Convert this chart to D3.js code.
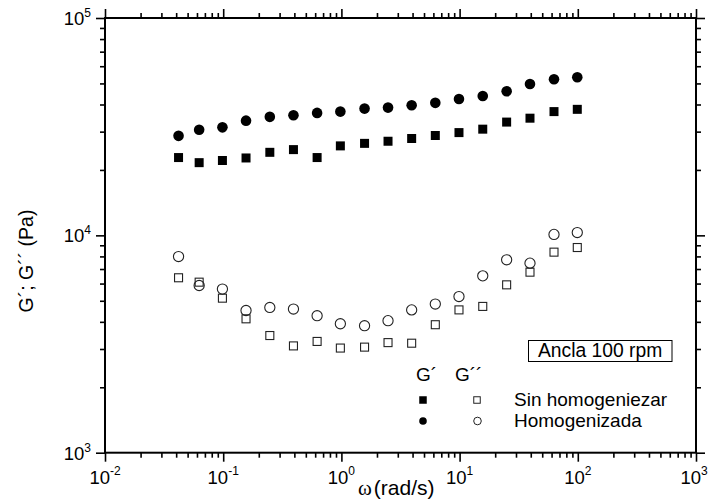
<!DOCTYPE html>
<html>
<head>
<meta charset="utf-8">
<script src="https://cdn.jsdelivr.net/npm/d3@7"></script>
<style>
  html, body { margin: 0; padding: 0; background: #fff; }
  svg { display: block; font-family: "Liberation Sans", Arial, sans-serif; }
</style>
</head>
<body>
<svg id="chart" width="709" height="500"></svg>
<script>
// Angular frequency (rad/s)
const omega = [0.0419, 0.0626, 0.0985, 0.156, 0.248, 0.393, 0.623, 0.980, 1.57,
               2.48, 3.93, 6.23, 9.88, 15.7, 25.0, 39.4, 62.9, 99.0];

// Storage modulus G' (Pa)
const gPrimeSin = [22800, 21600, 22100, 22700, 24100, 24800, 22800, 25800, 26500,
                   27100, 27900, 28800, 29700, 30800, 33200, 34600, 37100, 38000];
const gPrimeHom = [28700, 30600, 31400, 33700, 35100, 35700, 36600, 37100, 38300,
                   38700, 39700, 40700, 42400, 43800, 46000, 49700, 52300, 53400];

// Loss modulus G'' (Pa)
const gDoubleSin = [6380, 6090, 5140, 4130, 3460, 3100, 3250, 3030, 3060,
                    3210, 3190, 3880, 4540, 4710, 5920, 6770, 8370, 8790];
const gDoubleHom = [7990, 5880, 5660, 4510, 4660, 4580, 4270, 3920, 3840,
                    4050, 4540, 4830, 5230, 6510, 7720, 7450, 10100, 10300];

const xMajor = [1e-2, 1e-1, 1e0, 1e1, 1e2, 1e3];
const xExp = ["-2", "-1", "0", "1", "2", "3"];
const yMajor = [1e3, 1e4, 1e5];
const yExp = ["3", "4", "5"];

const legendRows = ["Sin homogeniezar", "Homogenizada"];
const annotation = "Ancla 100 rpm";

const W = 709;
const svg = d3.select("#chart");
const padL = 105, padR = 696, padT = 18, padB = 452.7;

const x = d3.scaleLog().domain([1e-2, 1e3]).range([padL, padR]);
const y = d3.scaleLog().domain([1e3, 1e5]).range([padB, padT]);

// minor ticks 2..9 in every decade
function minors(lo, hi) {
  const out = [];
  for (let e = lo; e < hi; e++) for (let m = 2; m <= 9; m++) out.push(m * Math.pow(10, e));
  return out;
}
const xMinor = minors(-2, 3);
const yMinor = minors(3, 5);

function styleAxis(g) {
  g.select(".domain").remove();
  g.selectAll(".tick line").attr("stroke", "#000").attr("stroke-width", 1.6);
  g.selectAll(".tick text").remove();
}

// ticks on all four sides
const axes = [
  [() => d3.axisBottom(x), `translate(0,${padB})`, xMajor, xMinor],
  [() => d3.axisTop(x), `translate(0,${padT})`, xMajor, xMinor],
  [() => d3.axisLeft(y), `translate(${padL},0)`, yMajor, yMinor],
  [() => d3.axisRight(y), `translate(${padR},0)`, yMajor, yMinor]
];
axes.forEach(([mk, tr, maj, min]) => {
  svg.append("g").attr("transform", tr)
    .call(mk().tickValues(maj).tickSize(9).tickSizeOuter(0)).call(styleAxis);
  svg.append("g").attr("transform", tr)
    .call(mk().tickValues(min).tickSize(5).tickSizeOuter(0)).call(styleAxis);
});

// frame
svg.append("rect")
  .attr("x", padL).attr("y", padT)
  .attr("width", padR - padL).attr("height", padB - padT)
  .attr("fill", "none").attr("stroke", "#000").attr("stroke-width", 2);

// x tick labels (powers of ten), centred on the tick and kept inside the page
xMajor.forEach((v, i) => {
  const t = svg.append("text")
    .attr("x", x(v)).attr("y", 484)
    .attr("text-anchor", "middle")
    .attr("font-size", 18.5).attr("fill", "#000");
  t.append("tspan").text("10");
  t.append("tspan").attr("dy", -9).attr("font-size", 12).text(xExp[i]);
  const bb = t.node().getBBox();
  if (bb.x + bb.width > W - 1) t.attr("x", x(v) - (bb.x + bb.width - (W - 1)));
});

// y tick labels
yMajor.forEach((v, i) => {
  const t = svg.append("text")
    .attr("x", 91).attr("y", y(v) + 7)
    .attr("text-anchor", "end")
    .attr("font-size", 18.5).attr("fill", "#000");
  t.append("tspan").text("10");
  t.append("tspan").attr("dy", -8).attr("font-size", 12).text(yExp[i]);
});

// axis titles
const xt = svg.append("text").attr("x", 358).attr("y", 495)
  .attr("font-size", 21).attr("fill", "#000");
xt.append("tspan").attr("font-family", "'Liberation Serif', 'DejaVu Serif', serif").text("ω");
xt.append("tspan").attr("dx", 2).text("(rad/s)");

svg.append("text")
  .attr("transform", "translate(33,261) rotate(-90)")
  .attr("text-anchor", "middle")
  .attr("font-size", 19.5).attr("fill", "#000")
  .text("G´; G´´ (Pa)");

// data markers
const sq = 9, r = 5.3;
const rows = omega.map((w, i) => ({
  w, a: gPrimeSin[i], b: gPrimeHom[i], c: gDoubleSin[i], d: gDoubleHom[i]
}));

const plot = svg.append("g");
plot.selectAll("rect.gps").data(rows).join("rect").attr("class", "gps")
  .attr("x", d => x(d.w) - sq / 2).attr("y", d => y(d.a) - sq / 2)
  .attr("width", sq).attr("height", sq).attr("fill", "#000");

plot.selectAll("circle.gph").data(rows).join("circle").attr("class", "gph")
  .attr("cx", d => x(d.w)).attr("cy", d => y(d.b)).attr("r", r).attr("fill", "#000");

plot.selectAll("rect.gds").data(rows).join("rect").attr("class", "gds")
  .attr("x", d => x(d.w) - sq / 2 + 0.5).attr("y", d => y(d.c) - sq / 2 + 0.5)
  .attr("width", sq - 1).attr("height", sq - 1)
  .attr("fill", "none").attr("stroke", "#222").attr("stroke-width", 1.1);

plot.selectAll("circle.gdh").data(rows).join("circle").attr("class", "gdh")
  .attr("cx", d => x(d.w)).attr("cy", d => y(d.d)).attr("r", r - 0.2)
  .attr("fill", "none").attr("stroke", "#222").attr("stroke-width", 1.1);

// annotation box
svg.append("rect").attr("x", 528.5).attr("y", 340.5)
  .attr("width", 143.5).attr("height", 21)
  .attr("fill", "#fff").attr("stroke", "#000").attr("stroke-width", 1);
svg.append("text").attr("x", 538).attr("y", 356.7)
  .attr("font-size", 19.3).attr("fill", "#000").text(annotation);

// legend
svg.append("text").attr("x", 416).attr("y", 381).attr("font-size", 19).text("G´");
svg.append("text").attr("x", 455).attr("y", 381).attr("font-size", 19).text("G´´");
const lsq = 7.5, lr = 3.8;
svg.append("rect").attr("x", 423 - lsq / 2).attr("y", 400 - lsq / 2)
  .attr("width", lsq).attr("height", lsq).attr("fill", "#000");
svg.append("rect").attr("x", 477 - lsq / 2 + 0.5).attr("y", 400 - lsq / 2 + 0.5)
  .attr("width", lsq - 1).attr("height", lsq - 1)
  .attr("fill", "none").attr("stroke", "#222").attr("stroke-width", 1);
svg.append("circle").attr("cx", 423).attr("cy", 421).attr("r", lr).attr("fill", "#000");
svg.append("circle").attr("cx", 477.5).attr("cy", 421).attr("r", lr)
  .attr("fill", "none").attr("stroke", "#222").attr("stroke-width", 1);
svg.append("text").attr("x", 514).attr("y", 405.5).attr("font-size", 19).text(legendRows[0]);
svg.append("text").attr("x", 514).attr("y", 426.5).attr("font-size", 19).text(legendRows[1]);
</script>
</body>
</html>
